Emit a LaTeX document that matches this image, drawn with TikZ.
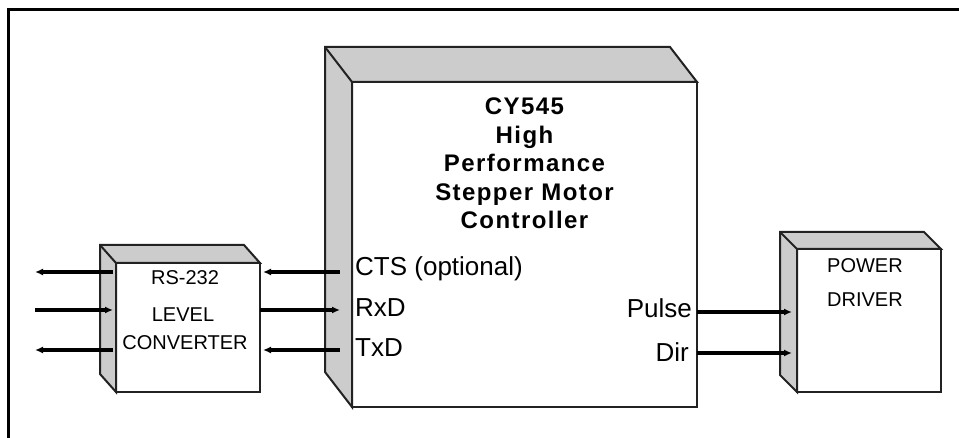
\documentclass[tikz,border=0pt]{standalone}
\usepackage{fontspec}
\setmainfont{Liberation Sans}
\newfontfamily\titlefont[LetterSpace=6]{Liberation Sans}
\usetikzlibrary{arrows.meta}
\definecolor{bevelgray}{HTML}{CCCCCC}
\definecolor{edge}{HTML}{222222}
\tikzset{
  face/.style={draw=edge, line width=2pt, fill=white, rectangle, inner sep=0pt, outer sep=0pt},
  bevelpart/.style={draw=edge, line width=2pt, fill=bevelgray, line join=miter},
  conn/.style={line width=3.2pt, -{Latex[length=8pt,width=7pt]}},
  biglabel/.style={font=\fontsize{26}{30}\selectfont, inner sep=0pt},
  smalllabel/.style={font=\fontsize{20}{24}\selectfont, inner sep=0pt},
}
\newcommand\bevelbox[3]{%
  \draw[bevelpart] ([shift={(#2,#3)}]#1.north west) -- ([shift={(#2,#3)}]#1.north east)
     -- (#1.north east) -- (#1.north west) -- (#1.south west)
     -- ([shift={(#2,#3)}]#1.south west) -- cycle;
  \draw[draw=edge, line width=2pt] ([shift={(#2,#3)}]#1.north west) -- (#1.north west);
}
\begin{document}
\begin{tikzpicture}[x=1pt,y=-1pt]
\useasboundingbox (0,0) rectangle (959,438);
% frame
\draw[line width=3.8pt] (8.5,438) -- (8.5,9.5) -- (959,9.5);

% box faces
\node[face, minimum width=345pt, minimum height=325pt] (main) at (524.5,244.5) {};
\node[face, minimum width=144pt, minimum height=129pt] (rs) at (188,327.5) {};
\node[face, minimum width=144pt, minimum height=143pt] (pd) at (869,320.5) {};
\bevelbox{main}{-27}{-35}
\bevelbox{rs}{-16}{-18}
\bevelbox{pd}{-17}{-17}

% title
\node[font=\titlefont\bfseries\fontsize{24}{28.5}\selectfont, align=center, anchor=north, inner sep=0pt] (title) at (524.5,97.8)
  {CY545\\High\\Performance\\Stepper Motor\\Controller};

% pin labels
\node[biglabel, anchor=base west] (cts) at (355,276) {CTS (optional)};
\node[biglabel, anchor=base west] (rxd) at (355,317) {RxD};
\node[biglabel, anchor=base west] (txd) at (355,357) {TxD};
\node[biglabel, anchor=base east] (pulse) at (692,318) {Pulse};
\node[biglabel, anchor=base east] (dir) at (689,362) {Dir};

% RS-232 text
\node[smalllabel, anchor=base] (rs1) at (185,285) {RS-232};
\node[smalllabel, anchor=base] (rs2) at (183,322) {LEVEL};
\node[smalllabel, anchor=base] (rs3) at (185,350) {CONVERTER};

% power driver text
\node[smalllabel, anchor=base west] (pd1) at (827,273) {POWER};
\node[smalllabel, anchor=base west] (pd2) at (827,307) {DRIVER};

% connector reference points
\coordinate (inA) at (35,272);
\coordinate (inB) at (35,310);
\coordinate (inC) at (35,350);
\coordinate (rsL) at ([xshift=-3pt]rs.west);
\coordinate (rsR) at ([xshift=3pt]rs.east);
\coordinate (mainL) at ([xshift=-12pt]main.west);
\coordinate (outP) at (792,312);
\coordinate (outD) at (792,353);

% left connectors
\draw[conn] (rsL |- inA) -- (inA);
\draw[conn] (inB) -- (rsL |- inB);
\draw[conn] (rsL |- inC) -- (inC);

% middle connectors
\draw[conn] (mainL |- inA) -- (rsR |- inA);
\draw[conn] (rs.east |- inB) -- (mainL |- inB);
\draw[conn] (mainL |- inC) -- (rsR |- inC);

% right connectors
\draw[conn] (main.east |- outP) -- (outP);
\draw[conn] (main.east |- outD) -- (outD);
\end{tikzpicture}
\end{document}
